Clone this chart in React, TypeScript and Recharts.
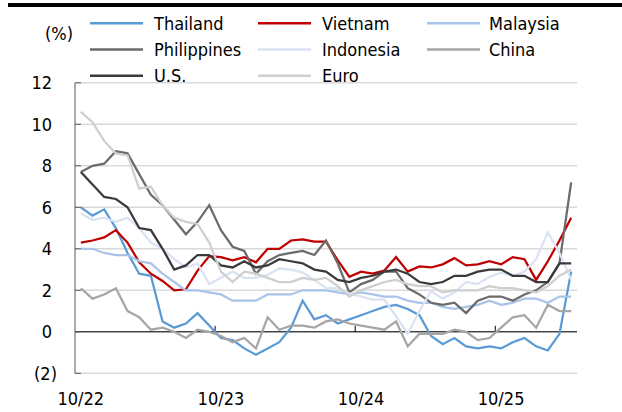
import React from 'react';
import { ComposedChart, Line, XAxis, YAxis, CartesianGrid, ReferenceLine } from 'recharts';

const months = [
  '10/22', '11/22', '12/22',
  '1/23', '2/23', '3/23', '4/23', '5/23', '6/23', '7/23', '8/23', '9/23', '10/23', '11/23', '12/23',
  '1/24', '2/24', '3/24', '4/24', '5/24', '6/24', '7/24', '8/24', '9/24', '10/24', '11/24', '12/24',
  '1/25', '2/25', '3/25', '4/25', '5/25', '6/25', '7/25', '8/25', '9/25', '10/25', '11/25', '12/25',
  '1/26', '2/26', '3/26', '4/26',
];

const thailand = [6.0, 5.6, 5.9, 5.0, 3.8, 2.8, 2.7, 0.5, 0.2, 0.4, 0.9, 0.3, -0.3, -0.4, -0.8, -1.1, -0.8, -0.5, 0.2, 1.5, 0.6, 0.8, 0.4, 0.6, 0.8, 1.0, 1.2, 1.3, 1.1, 0.8, -0.2, -0.6, -0.3, -0.7, -0.8, -0.7, -0.8, -0.5, -0.3, -0.7, -0.9, -0.1, 2.9];
const vietnam = [4.3, 4.4, 4.55, 4.9, 4.3, 3.35, 2.8, 2.45, 2.0, 2.05, 2.95, 3.65, 3.6, 3.45, 3.6, 3.35, 4.0, 4.0, 4.4, 4.45, 4.35, 4.35, 3.45, 2.65, 2.9, 2.8, 2.95, 3.6, 2.9, 3.15, 3.1, 3.25, 3.55, 3.2, 3.25, 3.4, 3.25, 3.6, 3.5, 2.5, 3.4, 4.4, 5.5];
const malaysia = [4.0, 4.0, 3.8, 3.7, 3.7, 3.4, 3.3, 2.8, 2.4, 2.0, 2.0, 1.9, 1.8, 1.5, 1.5, 1.5, 1.8, 1.8, 1.8, 2.0, 2.0, 2.0, 1.9, 1.8, 1.9, 1.8, 1.7, 1.7, 1.5, 1.4, 1.4, 1.2, 1.1, 1.2, 1.3, 1.5, 1.3, 1.4, 1.6, 1.6, 1.4, 1.7, 1.7];
const philippines = [7.7, 8.0, 8.1, 8.7, 8.6, 7.6, 6.6, 6.1, 5.4, 4.7, 5.3, 6.1, 4.9, 4.1, 3.9, 2.8, 3.4, 3.7, 3.8, 3.9, 3.7, 4.4, 3.3, 1.9, 2.3, 2.5, 2.9, 2.9, 2.1, 1.8, 1.4, 1.3, 1.4, 0.9, 1.5, 1.7, 1.7, 1.5, 1.8, 2.0, 2.4, 3.3, 7.2];
const indonesia = [5.7, 5.4, 5.5, 5.3, 5.5, 5.0, 4.3, 4.0, 3.5, 3.1, 3.3, 2.3, 2.6, 2.9, 2.6, 2.6, 2.75, 3.05, 3.0, 2.85, 2.5, 2.1, 2.1, 1.85, 1.7, 1.55, 1.55, 0.75, -0.1, 1.0, 1.95, 1.6, 1.9, 2.4, 2.3, 2.65, 2.85, 2.7, 2.9, 3.5, 4.8, 3.8, 2.5];
const china = [2.1, 1.6, 1.8, 2.1, 1.0, 0.7, 0.1, 0.2, 0.0, -0.3, 0.1, 0.0, -0.2, -0.5, -0.3, -0.8, 0.7, 0.1, 0.3, 0.3, 0.2, 0.5, 0.6, 0.4, 0.3, 0.2, 0.1, 0.5, -0.7, -0.1, -0.1, -0.1, 0.1, 0.0, -0.4, -0.3, 0.2, 0.7, 0.8, 0.2, 1.3, 1.0, 1.0];
const us = [7.7, 7.1, 6.5, 6.4, 6.0, 5.0, 4.9, 4.0, 3.0, 3.2, 3.7, 3.7, 3.2, 3.1, 3.4, 3.1, 3.2, 3.5, 3.4, 3.3, 3.0, 2.9, 2.5, 2.4, 2.6, 2.7, 2.9, 3.0, 2.8, 2.4, 2.3, 2.4, 2.7, 2.7, 2.9, 3.0, 3.0, 2.7, 2.7, 2.4, 2.4, 3.3, 3.3];
const euro = [10.6, 10.1, 9.2, 8.6, 8.5, 6.9, 7.0, 6.1, 5.5, 5.3, 5.2, 4.3, 2.9, 2.4, 2.9, 2.8, 2.6, 2.4, 2.4, 2.6, 2.5, 2.6, 2.2, 1.7, 2.0, 2.2, 2.4, 2.5, 2.3, 2.2, 2.2, 1.9, 2.0, 2.0, 2.0, 2.2, 2.1, 2.1, 2.0, 1.9, 2.2, 2.7, 3.0];

const yTicks = [-2, 0, 2, 4, 6, 8, 10, 12];
const yearTicks = ['10/23', '10/24', '10/25'];
const unitLabel = '(%)';

const series = [
  { key: 'thailand', name: 'Thailand', color: '#5B9BD5', values: thailand },
  { key: 'vietnam', name: 'Vietnam', color: '#C00000', values: vietnam },
  { key: 'malaysia', name: 'Malaysia', color: '#A9C4EB', values: malaysia },
  { key: 'philippines', name: 'Philippines', color: '#6B6B6B', values: philippines },
  { key: 'indonesia', name: 'Indonesia', color: '#DAE3F3', values: indonesia },
  { key: 'china', name: 'China', color: '#A6A6A6', values: china },
  { key: 'us', name: 'U.S.', color: '#3A3A3A', values: us },
  { key: 'euro', name: 'Euro', color: '#CFCFCF', values: euro },
];

const data = months.map((m, i) => {
  const row: Record<string, any> = { month: m };
  series.forEach((s) => {
    row[s.key] = s.values[i];
  });
  return row;
});

const FONT = "'DejaVu Sans Condensed', 'Liberation Sans', Arial, sans-serif";
const FS = 18;

const YTick = (props: any) => {
  const { x, y, payload } = props;
  const v = payload.value as number;
  const label = v < 0 ? `(${-v})` : `${v}`;
  return (
    <g>
      <line x1={x + 23} x2={x + 29} y1={y} y2={y} stroke="#595959" strokeWidth={1} />
      <text x={v < 0 ? x + 5 : x} y={y} dy={6.4} textAnchor="end" fontSize={FS} fill="#000" fontFamily={FONT}>
        {label}
      </text>
    </g>
  );
};

const XTick = (props: any) => {
  const { x, y, payload } = props;
  return (
    <text x={x} y={y} dy={31.7} textAnchor="middle" fontSize={FS} fill="#000" fontFamily={FONT}>
      {payload.value}
    </text>
  );
};

const legendCols = [
  { line: 90, text: 154 },
  { line: 258, text: 322 },
  { line: 427, text: 489 },
];
const legendRows = [23.3, 49.5, 75.7];

const LegendOverlay = () => (
  <svg width={622} height={412} style={{ position: 'absolute', left: 0, top: 0, pointerEvents: 'none' }}>
    <text x={45} y={39.5} fontSize={FS} fill="#000" fontFamily={FONT}>{unitLabel}</text>
    {series.map((s, i) => {
      const col = legendCols[i % 3];
      const rowY = legendRows[Math.floor(i / 3)];
      return (
        <g key={s.key}>
          <line x1={col.line} x2={col.line + 53} y1={rowY} y2={rowY} stroke={s.color} strokeWidth={2.5} />
          <text x={col.text} y={rowY + 6.5} fontSize={FS} fill="#000" fontFamily={FONT}>{s.name}</text>
        </g>
      );
    })}
  </svg>
);

export default function App() {
  return (
    <div
      style={{
        position: 'absolute',
        left: 0,
        top: 0,
        width: 622,
        height: 412,
        background: '#fff',
        fontFamily: FONT,
        overflow: 'hidden',
      }}
    >
      <div style={{ position: 'absolute', left: 0, top: 0 }}>
        <ComposedChart width={622} height={412} data={data} margin={{ top: 82.8, right: 45, bottom: 8.7, left: 15 }}>
          <CartesianGrid horizontal vertical={false} stroke="#D9D9D9" strokeWidth={1.5} />
          <XAxis
            dataKey="month"
            type="category"
            scale="band"
            interval={11}
            axisLine={false}
            tickLine={false}
            tickSize={0}
            tickMargin={0}
            height={30}
            tick={<XTick />}
          />
          <YAxis
            type="number"
            domain={[-2, 12]}
            ticks={yTicks}
            interval={0}
            width={60}
            axisLine={{ stroke: '#595959', strokeWidth: 1 }}
            tickLine={false}
            tickSize={0}
            tickMargin={23}
            tick={<YTick />}
          />
          <ReferenceLine y={0} stroke="#000" strokeWidth={1} />
          {yearTicks.map((m) => (
            <ReferenceLine
              key={m}
              segment={[{ x: m, y: 0 }, { x: m, y: 0.29 }]}
              position="start"
              stroke="#000"
              strokeWidth={1}
            />
          ))}
          {series.map((s) => (
            <Line
              key={s.key}
              type="linear"
              dataKey={s.key}
              name={s.name}
              stroke={s.color}
              strokeWidth={2.25}
              dot={false}
              activeDot={false}
              isAnimationActive={false}
            />
          ))}
        </ComposedChart>
      </div>
      <LegendOverlay />
      <div style={{ position: 'absolute', left: 8, top: 3, width: 614, height: 4, background: '#000', zIndex: 10 }} />
    </div>
  );
}
